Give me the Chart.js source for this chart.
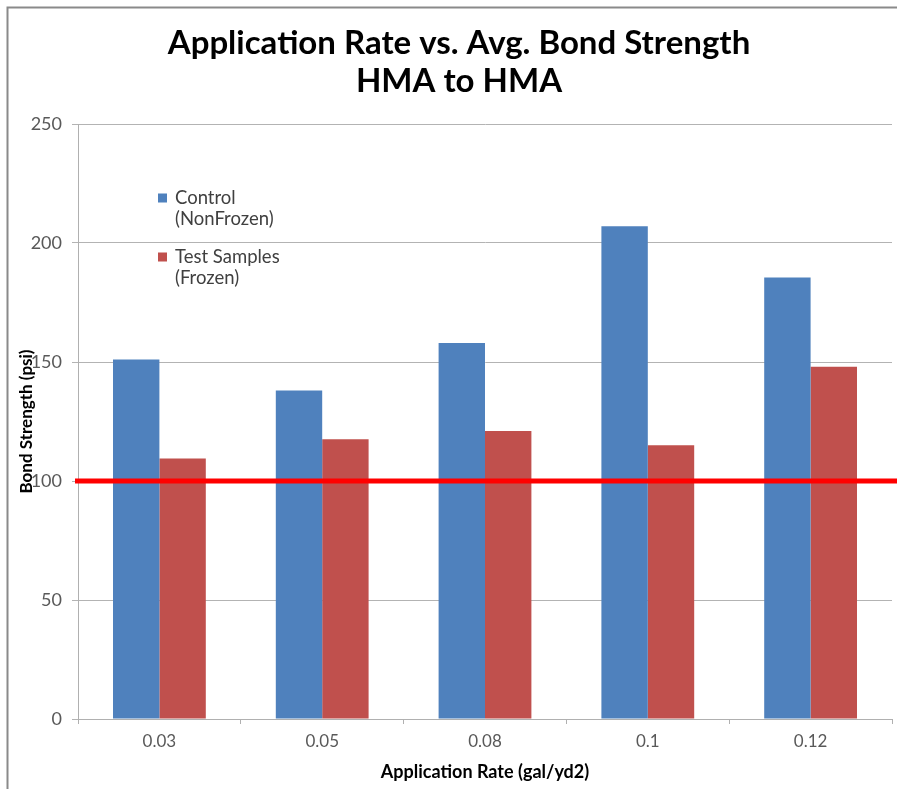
<!DOCTYPE html>
<html>
<head>
<meta charset="utf-8">
<script src="https://cdn.jsdelivr.net/npm/chart.js@4.4.1/dist/chart.umd.min.js"></script>
<style>
  html, body { margin: 0; padding: 0; background: #ffffff; }
  #wrap { width: 897px; height: 789px; }
</style>
</head>
<body>
<div id="wrap"><canvas id="c" width="897" height="789"></canvas></div>
<script>
// Application rates and average bond strengths (psi)
const categories = ['0.03', '0.05', '0.08', '0.1', '0.12'];
const controlValues = [151, 138, 158, 207, 185.5];
const testValues = [109.5, 117.5, 121, 115, 148];
const yTicks = [0, 50, 100, 150, 200, 250];
const thresholdValue = 100;

const titleLines = ['Application Rate vs. Avg. Bond Strength', 'HMA to HMA'];
const seriesNames = [['Control', '(NonFrozen)'], ['Test Samples', '(Frozen)']];
const xAxisTitle = 'Application Rate (gal/yd2)';
const yAxisTitle = 'Bond Strength (psi)';

const BLUE = '#4F81BD';
const RED = '#C0504D';
const FONT = 'Lato, "Open Sans", sans-serif';

// White page with the grey frame along the top and left
const framePlugin = {
  id: 'frame',
  beforeDraw(chart) {
    const { ctx, width, height } = chart;
    ctx.save();
    ctx.fillStyle = '#ffffff';
    ctx.fillRect(0, 0, width, height);
    ctx.strokeStyle = '#8a8a8a';
    ctx.lineWidth = 2;
    ctx.beginPath();
    ctx.moveTo(7.5, height + 5);
    ctx.lineTo(7.5, 7.5);
    ctx.lineTo(width + 5, 7.5);
    ctx.stroke();
    ctx.restore();
  }
};

// Horizontal reference line at the threshold strength
const thresholdPlugin = {
  id: 'threshold',
  afterDatasetsDraw(chart) {
    const { ctx, chartArea, width } = chart;
    const y = chart.scales.y.getPixelForValue(thresholdValue);
    ctx.save();
    ctx.strokeStyle = '#ff0000';
    ctx.lineWidth = 5;
    ctx.beginPath();
    ctx.moveTo(chartArea.left - 3, y);
    ctx.lineTo(width, y);
    ctx.stroke();
    ctx.restore();
  }
};

// Title, axis titles and the two-line legend
const textPlugin = {
  id: 'texts',
  afterDraw(chart) {
    const { ctx, chartArea } = chart;
    ctx.save();
    ctx.fillStyle = '#000000';
    ctx.textAlign = 'center';
    ctx.textBaseline = 'middle';
    ctx.font = 'bold 33px ' + FONT;
    ctx.fillText(titleLines[0], 459, 43);
    ctx.fillText(titleLines[1], 459, 81);

    ctx.font = 'bold 18px ' + FONT;
    ctx.fillText(xAxisTitle, (chartArea.left + chartArea.right) / 2, 772);

    ctx.save();
    ctx.translate(27, (chartArea.top + chartArea.bottom) / 2);
    ctx.rotate(-Math.PI / 2);
    ctx.font = 'bold 17px ' + FONT;
    ctx.fillText(yAxisTitle, 0, 0);
    ctx.restore();

    // legend
    const colors = [BLUE, RED];
    const rowY = [198, 257];
    ctx.textAlign = 'left';
    ctx.font = '18.5px ' + FONT;
    chart.data.datasets.forEach((ds, i) => {
      ctx.fillStyle = colors[i];
      ctx.fillRect(158, rowY[i] - 4.5, 9, 9);
      ctx.fillStyle = '#404040';
      ds.label.forEach((line, j) => {
        ctx.fillText(line, 175, rowY[i] + j * 21);
      });
    });
    ctx.restore();
  }
};

new Chart(document.getElementById('c'), {
  type: 'bar',
  data: {
    labels: categories,
    datasets: [
      { label: seriesNames[0], data: controlValues, backgroundColor: BLUE },
      { label: seriesNames[1], data: testValues, backgroundColor: RED }
    ]
  },
  options: {
    responsive: false,
    animation: false,
    layout: { padding: { top: 124, left: 0, right: 5, bottom: 0 } },
    datasets: {
      bar: { categoryPercentage: 0.57, barPercentage: 1.0 }
    },
    plugins: {
      legend: { display: false },
      title: { display: false },
      tooltip: { enabled: false }
    },
    scales: {
      x: {
        afterFit(scale) { scale.height = 70; },
        grid: {
          offset: true,
          drawOnChartArea: false,
          drawTicks: true,
          tickLength: 5,
          color: '#b0b0b0'
        },
        border: { display: true, color: '#b0b0b0', width: 1 },
        ticks: {
          color: '#595959',
          font: { family: FONT, size: 17 },
          padding: 7,
          maxRotation: 0
        }
      },
      y: {
        min: 0,
        max: 250,
        afterFit(scale) { scale.width = 78; },
        afterBuildTicks(scale) { scale.ticks = yTicks.map(v => ({ value: v })); },
        grid: {
          drawOnChartArea: true,
          drawTicks: true,
          tickLength: 6,
          color: '#b3b3b3'
        },
        border: { display: true, color: '#b0b0b0', width: 1 },
        ticks: {
          color: '#595959',
          font: { family: FONT, size: 18 },
          padding: 10
        }
      }
    }
  },
  plugins: [framePlugin, thresholdPlugin, textPlugin]
});
</script>
</body>
</html>
